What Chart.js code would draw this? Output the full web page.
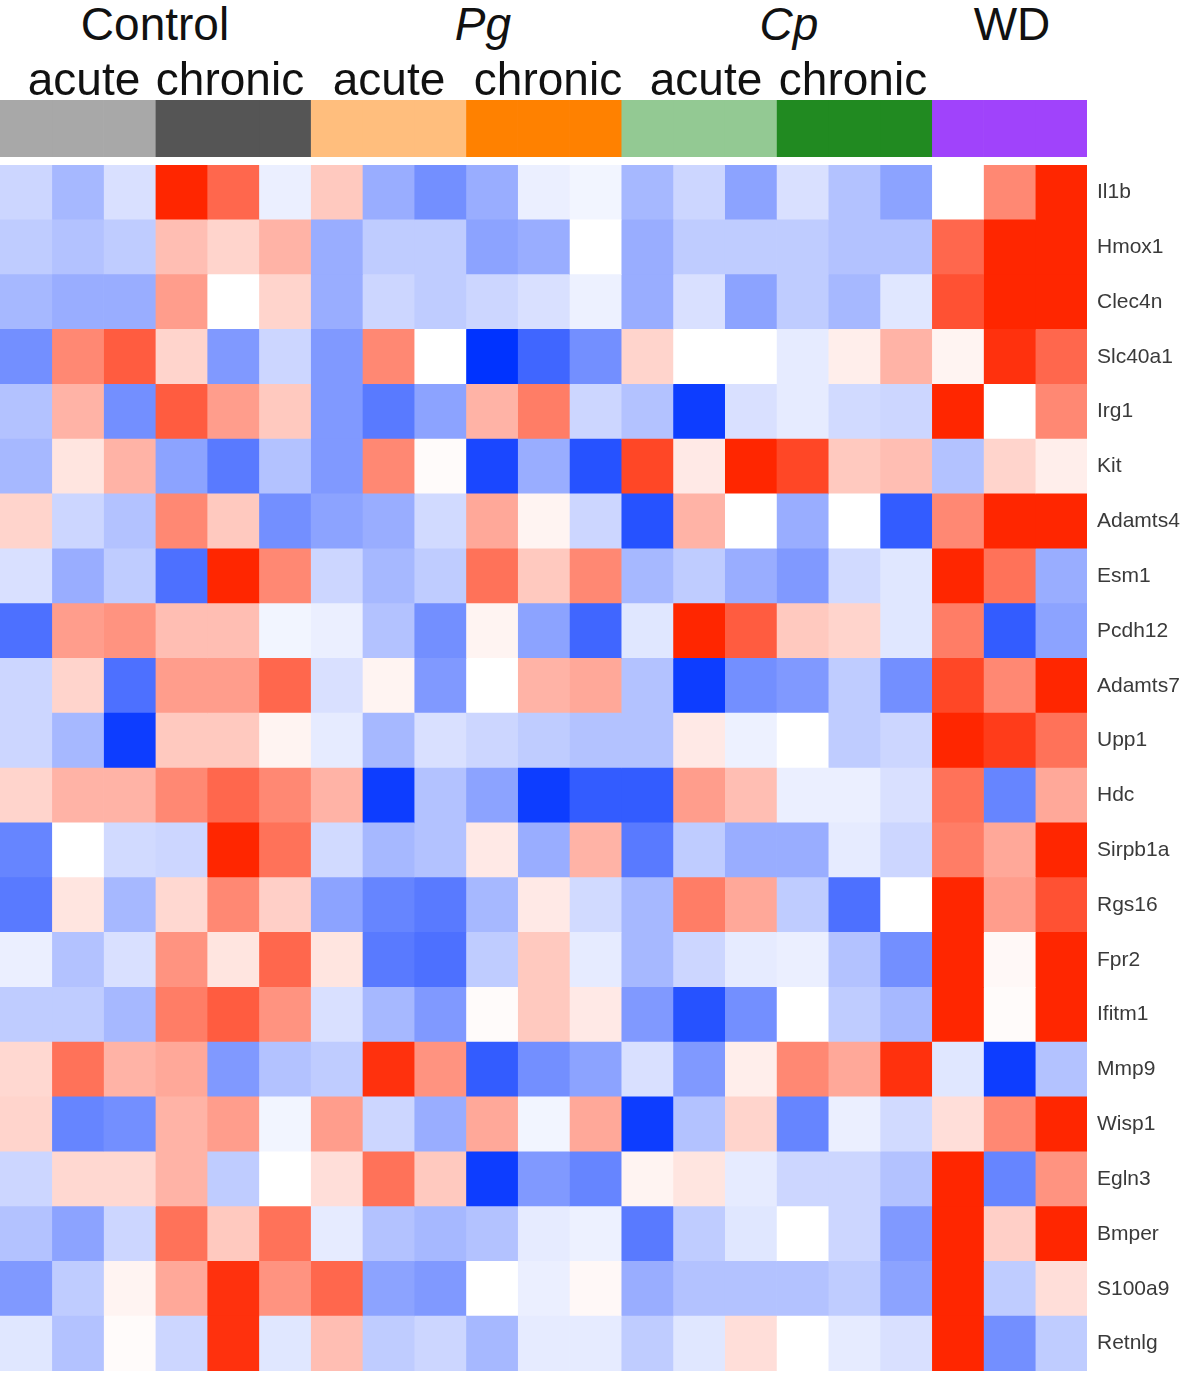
<!DOCTYPE html>
<html>
<head>
<meta charset="utf-8">
<script src="https://cdn.jsdelivr.net/npm/chart.js@4.4.1/dist/chart.umd.min.js"></script>
<style>
  body { margin: 0; background: #fff; }
  #wrap { position: relative; width: 1200px; height: 1375px; overflow: hidden; }
  .hd { position: absolute; font-family: 'Liberation Sans', Arial, sans-serif; font-size: 46px; line-height: 46px; color: #111; white-space: nowrap; transform: translateX(-50%); }
  .it { font-style: italic; }
  canvas { position: absolute; left: 0; }
</style>
</head>
<body>
<div id="wrap">
  <canvas id="groupBar" width="1200" height="57" style="top:100px"></canvas>
  <canvas id="heatmap" width="1200" height="1206" style="top:165px"></canvas>
</div>
<script>
// sample groups, 3 mice each
const groups = ['Control acute', 'Control chronic', 'Pg acute', 'Pg chronic', 'Cp acute', 'Cp chronic', 'WD']
const groupColors = ['#a8a8a8', '#555555', '#ffbe7d', '#ff8100', '#93c993', '#218a21', '#a043fb']
const reps = 3

const genes = ['Il1b', 'Hmox1', 'Clec4n', 'Slc40a1', 'Irg1', 'Kit', 'Adamts4', 'Esm1', 'Pcdh12', 'Adamts7', 'Upp1',
  'Hdc', 'Sirpb1a', 'Rgs16', 'Fpr2', 'Ifitm1', 'Mmp9', 'Wisp1', 'Egln3', 'Bmper', 'S100a9', 'Retnlg']

// scaled expression, one value per sample (21), -1 = blue, 1 = red
const il1b    = [-0.2, -0.35, -0.15, 1.0, 0.7, -0.08, 0.25, -0.4, -0.55, -0.4, -0.08, -0.05, -0.35, -0.2, -0.45, -0.15, -0.3, -0.45, 0.0, 0.55, 1.0]
const hmox1   = [-0.25, -0.3, -0.25, 0.3, 0.2, 0.35, -0.4, -0.25, -0.25, -0.45, -0.4, 0.0, -0.4, -0.25, -0.25, -0.25, -0.3, -0.3, 0.7, 1.0, 1.0]
const clec4n  = [-0.35, -0.4, -0.4, 0.45, 0.0, 0.2, -0.4, -0.2, -0.25, -0.2, -0.15, -0.07, -0.4, -0.15, -0.45, -0.25, -0.35, -0.12, 0.8, 1.0, 1.0]
const slc40a1 = [-0.55, 0.55, 0.75, 0.2, -0.5, -0.2, -0.5, 0.55, 0.0, -1.0, -0.75, -0.55, 0.2, 0.0, 0.0, -0.1, 0.08, 0.35, 0.05, 0.95, 0.7]
const irg1    = [-0.3, 0.35, -0.55, 0.75, 0.45, 0.25, -0.5, -0.65, -0.45, 0.35, 0.6, -0.2, -0.3, -0.95, -0.15, -0.1, -0.18, -0.2, 1.0, 0.0, 0.55]
const kit     = [-0.35, 0.12, 0.35, -0.45, -0.65, -0.3, -0.5, 0.55, 0.02, -0.9, -0.4, -0.85, 0.85, 0.1, 1.0, 0.85, 0.25, 0.3, -0.3, 0.2, 0.08]
const adamts4 = [0.2, -0.2, -0.3, 0.55, 0.25, -0.55, -0.45, -0.4, -0.18, 0.4, 0.05, -0.2, -0.85, 0.35, 0.0, -0.4, 0.0, -0.8, 0.55, 1.0, 1.0]
const esm1    = [-0.15, -0.4, -0.25, -0.7, 1.0, 0.55, -0.2, -0.35, -0.25, 0.65, 0.25, 0.55, -0.35, -0.25, -0.4, -0.5, -0.18, -0.12, 1.0, 0.65, -0.4]
const pcdh12  = [-0.7, 0.45, 0.5, 0.3, 0.3, -0.05, -0.08, -0.3, -0.55, 0.05, -0.45, -0.75, -0.12, 1.0, 0.75, 0.25, 0.2, -0.12, 0.6, -0.8, -0.45]
const adamts7 = [-0.2, 0.2, -0.7, 0.45, 0.45, 0.7, -0.15, 0.05, -0.5, 0.0, 0.35, 0.4, -0.3, -0.95, -0.55, -0.5, -0.25, -0.55, 0.85, 0.55, 1.0]
const upp1    = [-0.2, -0.35, -0.95, 0.25, 0.25, 0.05, -0.1, -0.35, -0.15, -0.2, -0.25, -0.3, -0.3, 0.1, -0.07, 0.0, -0.25, -0.2, 1.0, 0.9, 0.65]
const hdc     = [0.2, 0.35, 0.35, 0.55, 0.7, 0.55, 0.35, -0.95, -0.3, -0.45, -0.95, -0.8, -0.8, 0.45, 0.3, -0.08, -0.08, -0.15, 0.65, -0.6, 0.4]
const sirpb1a = [-0.6, 0.0, -0.18, -0.2, 1.0, 0.65, -0.18, -0.35, -0.3, 0.1, -0.4, 0.35, -0.65, -0.25, -0.4, -0.4, -0.1, -0.2, 0.6, 0.4, 1.0]
const rgs16   = [-0.65, 0.12, -0.35, 0.18, 0.55, 0.22, -0.45, -0.6, -0.65, -0.35, 0.1, -0.18, -0.35, 0.6, 0.4, -0.25, -0.7, 0.0, 1.0, 0.45, 0.8]
const fpr2    = [-0.08, -0.3, -0.15, 0.5, 0.12, 0.7, 0.12, -0.65, -0.7, -0.25, 0.25, -0.1, -0.35, -0.2, -0.1, -0.08, -0.3, -0.55, 1.0, 0.03, 1.0]
const ifitm1  = [-0.25, -0.25, -0.35, 0.6, 0.75, 0.5, -0.15, -0.35, -0.5, 0.02, 0.25, 0.1, -0.5, -0.85, -0.55, 0.0, -0.25, -0.35, 1.0, 0.02, 1.0]
const mmp9    = [0.18, 0.65, 0.35, 0.4, -0.5, -0.3, -0.25, 0.95, 0.5, -0.8, -0.55, -0.45, -0.15, -0.5, 0.08, 0.55, 0.4, 0.95, -0.12, -0.95, -0.3]
const wisp1   = [0.2, -0.6, -0.55, 0.35, 0.45, -0.05, 0.45, -0.2, -0.4, 0.4, -0.05, 0.4, -0.95, -0.3, 0.2, -0.6, -0.08, -0.18, 0.15, 0.55, 1.0]
const egln3   = [-0.2, 0.18, 0.18, 0.35, -0.25, 0.0, 0.15, 0.65, 0.25, -0.95, -0.5, -0.6, 0.05, 0.12, -0.1, -0.2, -0.2, -0.3, 1.0, -0.6, 0.5]
const bmper   = [-0.3, -0.45, -0.2, 0.65, 0.25, 0.65, -0.1, -0.3, -0.35, -0.3, -0.1, -0.07, -0.65, -0.25, -0.12, 0.0, -0.2, -0.5, 1.0, 0.22, 1.0]
const s100a9  = [-0.5, -0.25, 0.05, 0.4, 0.95, 0.5, 0.7, -0.45, -0.5, 0.0, -0.08, 0.03, -0.4, -0.3, -0.3, -0.3, -0.25, -0.45, 1.0, -0.25, 0.15]
const retnlg  = [-0.12, -0.3, 0.02, -0.2, 0.95, -0.12, 0.3, -0.25, -0.2, -0.35, -0.1, -0.1, -0.25, -0.12, 0.15, 0.0, -0.1, -0.15, 1.0, -0.55, -0.25]

const expr = [il1b, hmox1, clec4n, slc40a1, irg1, kit, adamts4, esm1, pcdh12, adamts7, upp1,
  hdc, sirpb1a, rgs16, fpr2, ifitm1, mmp9, wisp1, egln3, bmper, s100a9, retnlg]

// header labels
const treatLabels = [['Control', 155, false], ['Pg', 483, true], ['Cp', 789, true], ['WD', 1012, false]]
const timeLabels = [['acute', 84], ['chronic', 230], ['acute', 389], ['chronic', 548], ['acute', 706], ['chronic', 853]]

const samples = []
groups.forEach((g, gi) => {
  for (let r = 1; r <= reps; r++) samples.push({ name: g + ' ' + r, color: groupColors[gi] })
})
const nCols = samples.length

// blue - white - red
function heatColor(v) {
  v = Math.max(-1, Math.min(1, v))
  if (v >= 0) {
    return `rgb(255, ${Math.round(255 - 217 * v)}, ${Math.round(255 - 255 * v)})`
  }
  const a = -v
  return `rgb(${Math.round(255 - 255 * a)}, ${Math.round(255 - 204 * a)}, 255)`
}

const wrap = document.getElementById('wrap')
treatLabels.forEach(([t, x, italic]) => {
  const d = document.createElement('div')
  d.className = 'hd' + (italic ? ' it' : '')
  d.style.left = x + 'px'
  d.style.top = '1px'
  d.textContent = t
  wrap.appendChild(d)
})
timeLabels.forEach(([t, x]) => {
  const d = document.createElement('div')
  d.className = 'hd'
  d.style.left = x + 'px'
  d.style.top = '56px'
  d.textContent = t
  wrap.appendChild(d)
})

const RIGHT_AXIS = 113

// group colour bar
new Chart(document.getElementById('groupBar').getContext('2d'), {
  type: 'bar',
  data: {
    labels: [''],
    datasets: samples.map(s => ({
      label: s.name,
      data: [1],
      backgroundColor: s.color,
      borderWidth: 0,
      categoryPercentage: 1,
      barPercentage: 1,
    })),
  },
  options: {
    indexAxis: 'y',
    responsive: false,
    animation: false,
    layout: { padding: { right: RIGHT_AXIS } },
    plugins: { legend: { display: false }, tooltip: { enabled: false } },
    scales: {
      x: { stacked: true, min: 0, max: nCols, display: false },
      y: { stacked: true, display: false },
    },
  },
})

// heatmap: one stacked dataset per sample column
new Chart(document.getElementById('heatmap').getContext('2d'), {
  type: 'bar',
  data: {
    labels: genes,
    datasets: samples.map((s, j) => ({
      label: s.name,
      data: genes.map(() => 1),
      backgroundColor: expr.map(row => heatColor(row[j])),
      borderWidth: 0,
      categoryPercentage: 1,
      barPercentage: 1,
    })),
  },
  options: {
    indexAxis: 'y',
    responsive: false,
    animation: false,
    layout: { autoPadding: false },
    plugins: { legend: { display: false }, tooltip: { enabled: false } },
    scales: {
      x: { stacked: true, min: 0, max: nCols, display: false },
      y: {
        stacked: true,
        position: 'right',
        grid: { display: false, drawTicks: false },
        border: { display: false },
        ticks: {
          padding: 10,
          color: '#3a3a3a',
          font: { family: "'Liberation Sans', Arial, sans-serif", size: 21 },
        },
        afterFit: axis => {
          axis.width = RIGHT_AXIS
          axis.paddingTop = 0
          axis.paddingBottom = 0
        },
      },
    },
  },
})
</script>
</body>
</html>
